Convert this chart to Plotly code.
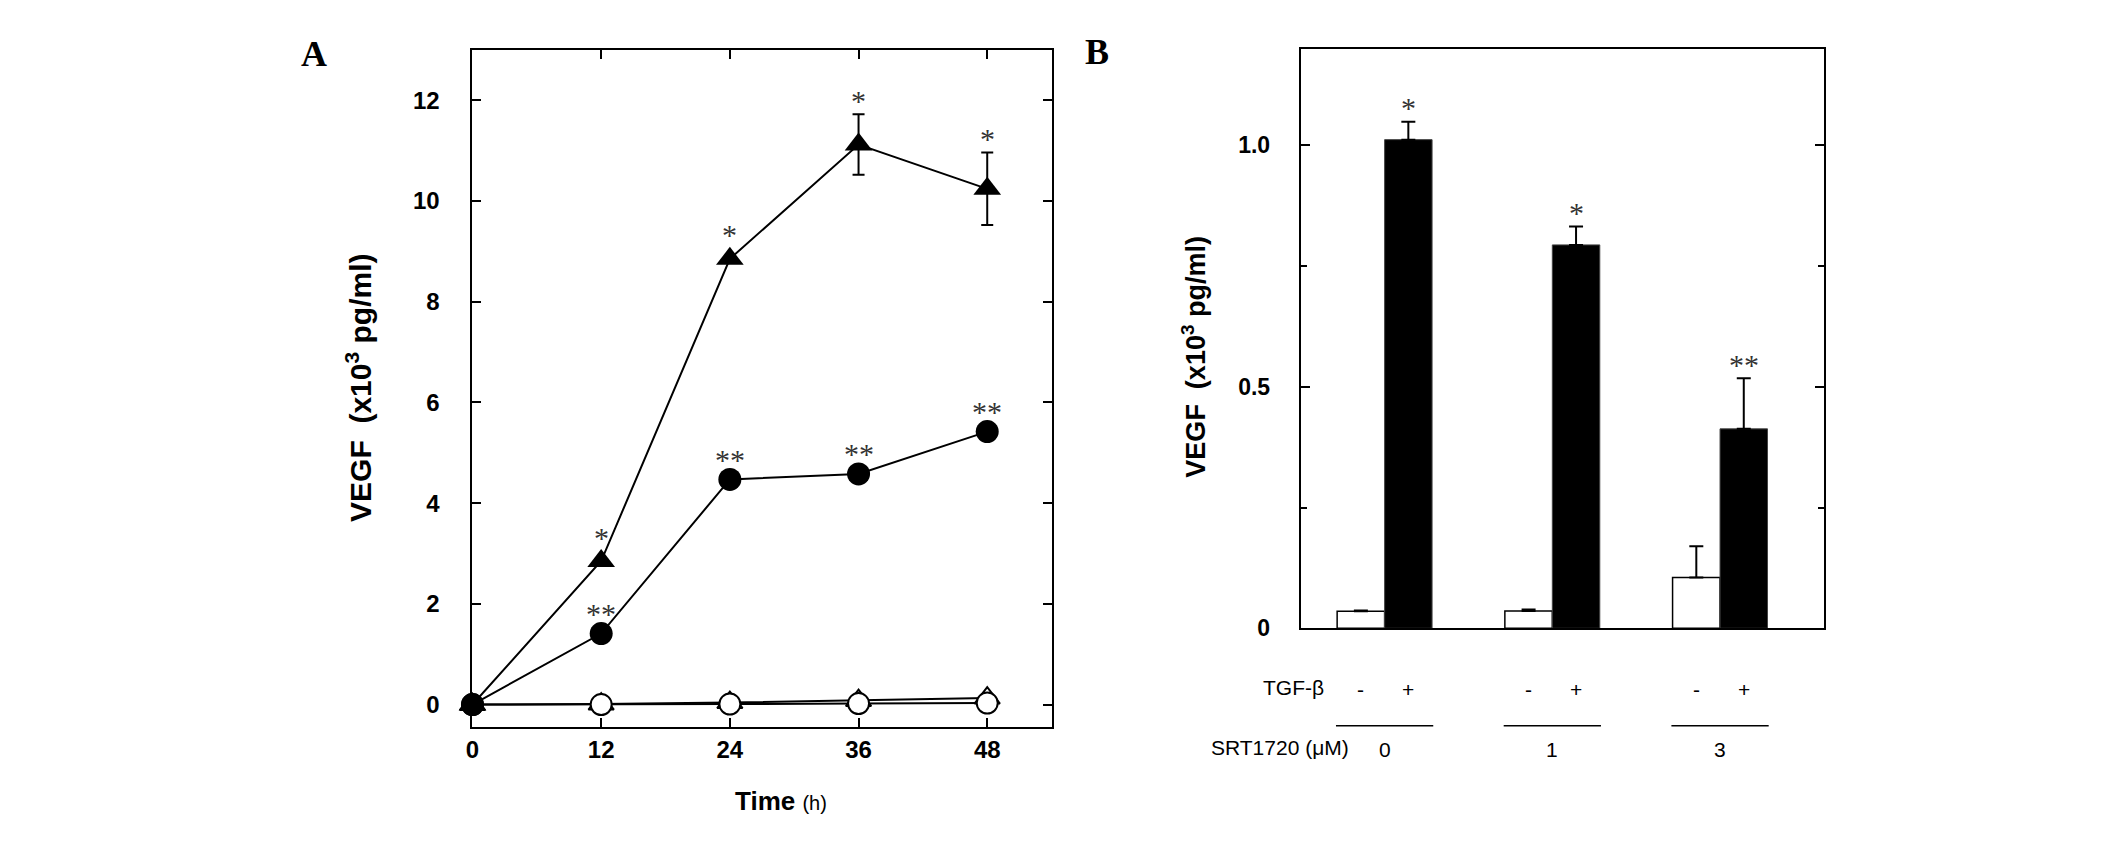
import plotly.graph_objects as go

# panel A: VEGF over time (x10^3 pg/ml)
hours = [0, 12, 24, 36, 48]
tgf_alone = [0.0, 2.85, 8.85, 11.12, 10.24]
tgf_alone_err = [0, 0, 0, 0.6, 0.72]
tgf_srt = [0.0, 1.41, 4.47, 4.58, 5.42]
ctrl_tri = [0.0, 0.01, 0.04, 0.08, 0.13]
ctrl_circ = [0.0, 0.0, 0.01, 0.02, 0.03]
tgf_alone_marks = ["", "*", "*", "*", "*"]
tgf_srt_marks = ["", "**", "**", "**", "**"]

# panel B: VEGF by SRT1720 dose
srt_doses = ["0", "1", "3"]
no_tgf = [0.035, 0.036, 0.105]
no_tgf_err = [0.002, 0.003, 0.065]
with_tgf = [1.012, 0.794, 0.413]
with_tgf_err = [0.037, 0.038, 0.105]
with_tgf_marks = ["*", "*", "**"]

W, H = 2126, 842
SANS = "Liberation Sans, Arial, sans-serif"
SERIF = "Liberation Serif, Times New Roman, serif"

fig = go.Figure()

line_style = dict(color="black", width=2)
fig.add_trace(go.Scatter(
    x=hours, y=ctrl_tri, mode="lines+markers", line=line_style,
    marker=dict(symbol="triangle-up", size=22, color="white", line=dict(color="black", width=2)),
    cliponaxis=False, xaxis="x", yaxis="y",
))
fig.add_trace(go.Scatter(
    x=hours, y=ctrl_circ, mode="lines+markers", line=line_style,
    marker=dict(symbol="circle", size=21, color="white", line=dict(color="black", width=2)),
    cliponaxis=False, xaxis="x", yaxis="y",
))
fig.add_trace(go.Scatter(
    x=hours, y=tgf_alone, mode="lines+markers", line=line_style,
    marker=dict(symbol="triangle-up", size=24, color="black"),
    error_y=dict(type="data", array=tgf_alone_err, color="black", thickness=2, width=6),
    cliponaxis=False, xaxis="x", yaxis="y",
))
fig.add_trace(go.Scatter(
    x=hours, y=tgf_srt, mode="lines+markers", line=line_style,
    marker=dict(symbol="circle", size=23, color="black"),
    cliponaxis=False, xaxis="x", yaxis="y",
))

grp = list(range(len(srt_doses)))
fig.add_trace(go.Bar(
    x=grp, y=no_tgf, marker=dict(color="white", line=dict(color="black", width=1.5)),
    error_y=dict(type="data", array=no_tgf_err, arrayminus=[0] * 3, symmetric=False,
                 color="black", thickness=2, width=7),
    xaxis="x2", yaxis="y2",
))
fig.add_trace(go.Bar(
    x=grp, y=with_tgf, marker=dict(color="black", line=dict(color="#444", width=1)),
    error_y=dict(type="data", array=with_tgf_err, arrayminus=[0] * 3, symmetric=False,
                 color="black", thickness=2, width=7),
    xaxis="x2", yaxis="y2",
))

ann = []
star_font = dict(family=SERIF, size=30, color="#333")
for t, v, e, m in zip(hours, tgf_alone, tgf_alone_err, tgf_alone_marks):
    if m:
        ann.append(dict(x=t, y=v + e, xref="x", yref="y", text=m, showarrow=False,
                        xanchor="center", yanchor="middle",
                        yshift=14 if e else 24, font=star_font))
for t, v, m in zip(hours, tgf_srt, tgf_srt_marks):
    if m:
        ann.append(dict(x=t, y=v, xref="x", yref="y", text=m, showarrow=False,
                        xanchor="center", yanchor="middle", yshift=20, font=star_font))

half = 0.1415
for i, (v, e, m) in enumerate(zip(with_tgf, with_tgf_err, with_tgf_marks)):
    ann.append(dict(x=i + half, y=v + e, xref="x2", yref="y2", text=m, showarrow=False,
                    xanchor="center", yanchor="middle", yshift=14, font=star_font))

lab_font = dict(family=SANS, size=21, color="black")
mid = dict(showarrow=False, xanchor="center", yanchor="middle", font=lab_font)
for i, d in enumerate(srt_doses):
    ann.append(dict(x=i - half, y=1 - 692 / H, xref="x2", yref="paper", text="-", **mid))
    ann.append(dict(x=i + half, y=1 - 692 / H, xref="x2", yref="paper", text="+", **mid))
    ann.append(dict(x=i, y=1 - 753 / H, xref="x2", yref="paper", text=d, **mid))
    fig.add_shape(type="line", xref="x2", yref="paper", x0=i - 0.29, x1=i + 0.29,
                  y0=1 - 729 / H, y1=1 - 729 / H, line=dict(color="black", width=1.5))

ann.append(dict(x=-0.35, y=1 - 690 / H, xref="x2", yref="paper", text="TGF-β", xanchor="right",
                yanchor="middle", showarrow=False, font=lab_font))
ann.append(dict(x=-0.2, y=1 - 751 / H, xref="x2", yref="paper", text="SRT1720 (μM)", xanchor="right",
                yanchor="middle", showarrow=False, font=lab_font))

ann.append(dict(x=345 / W, y=1 - 386 / H, xref="paper", yref="paper", textangle=-90,
                xanchor="center", yanchor="middle",
                text="VEGF  (x10<sup>3</sup> pg/ml)", showarrow=False,
                font=dict(family=SANS, size=30, color="black", weight="bold")))
ann.append(dict(x=1182 / W, y=1 - 354 / H, xref="paper", yref="paper", textangle=-90,
                xanchor="center", yanchor="middle",
                text="VEGF  (x10<sup>3</sup> pg/ml)", showarrow=False,
                font=dict(family=SANS, size=27, color="black", weight="bold")))
ann.append(dict(x=769 / W, y=1 - 805 / H, xref="paper", yref="paper",
                xanchor="center", yanchor="middle",
                text="<b>Time</b> <span style='font-size:20px'>(h)</span>", showarrow=False,
                font=dict(family=SANS, size=26, color="black")))
ann.append(dict(x=300 / W, y=1 - 47 / H, xref="paper", yref="paper", text="<b>A</b>",
                xanchor="center", yanchor="middle",
                showarrow=False, font=dict(family=SERIF, size=36, color="black")))
ann.append(dict(x=1086 / W, y=1 - 45 / H, xref="paper", yref="paper", text="<b>B</b>",
                xanchor="center", yanchor="middle",
                showarrow=False, font=dict(family=SERIF, size=36, color="black")))

axis_common = dict(showline=True, linecolor="black", linewidth=2, showgrid=False, zeroline=False,
                   ticks="inside", tickcolor="black", tickwidth=2, ticklen=9)

fig.update_layout(
    width=W, height=H, margin=dict(l=0, r=0, t=0, b=0),
    paper_bgcolor="white", plot_bgcolor="white", showlegend=False,
    barmode="group", bargap=0.434, bargroupgap=0,
    annotations=ann,
    xaxis=dict(domain=[459 / W, 1040 / W], range=[0, 54], tickvals=hours[:], mirror="allticks",
               anchor="y", tickfont=dict(family=SANS, size=24, color="black", weight="bold"),
               ticklabelstandoff=0, **axis_common),
    yaxis=dict(domain=[1 - 730 / H, 1 - 42.5 / H], range=[-0.44, 13], tickvals=[0, 2, 4, 6, 8, 10, 12],
               mirror="allticks", anchor="x",
               tickfont=dict(family=SANS, size=24, color="black", weight="bold"),
               ticklabelstandoff=26, **axis_common),
    xaxis2=dict(domain=[1290 / W, 1815 / W], range=[-0.5, 2.62], showticklabels=False,
                showline=True, linecolor="black", linewidth=2, mirror=True, showgrid=False,
                zeroline=False, ticks="", anchor="y2"),
    yaxis2=dict(domain=[1 - 630 / H, 1 - 41.5 / H], range=[0, 1.2], tickvals=[0, 0.5, 1.0],
                ticktext=["0", "0.5", "1.0"], mirror="allticks", anchor="x2",
                tickfont=dict(family=SANS, size=23, color="black", weight="bold"),
                ticklabelstandoff=24,
                minor=dict(tickvals=[0.25, 0.75], ticks="inside", ticklen=6, tickwidth=2, tickcolor="black"),
                **axis_common),
)

fig.write_html("out.html")
